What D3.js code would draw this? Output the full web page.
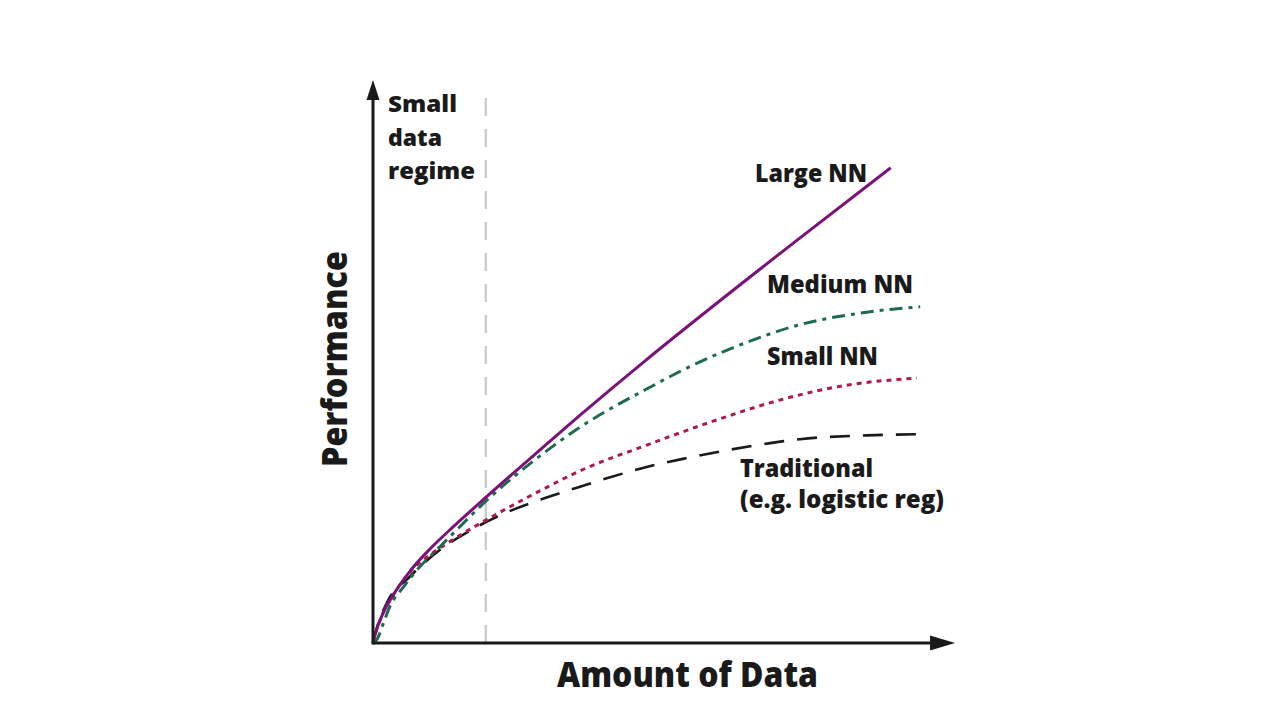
<!DOCTYPE html>
<html>
<head>
<meta charset="utf-8">
<script src="https://cdn.jsdelivr.net/npm/d3@7"></script>
<style>
  html, body { margin: 0; padding: 0; background: #ffffff; }
  svg { display: block; }
  text { font-family: "Open Sans", "Noto Sans", sans-serif; font-weight: 800; fill: #1a1a1a; }
</style>
</head>
<body>
<svg id="chart" width="1280" height="720"></svg>
<script>
// ---- data (x = amount of data, y = performance; arbitrary 0-100 units) ----
const largeNN_x = [0, 0.4, 1.9, 3.7, 6.8, 10.5, 14.7, 20.9, 30.6, 38.0, 50.2, 60.0, 78.3, 95.0];
const largeNN_y = [0, 1.6, 5.6, 8.8, 13.2, 17.3, 21.3, 26.9, 35.4, 41.8, 52.0, 59.9, 74.3, 87.2];

const mediumNN_x = [0, 0.7, 1.9, 3.1, 5.6, 8.6, 11.7, 14.1, 20.9, 30.6, 38.0, 50.2, 60.0, 66.1, 78.3, 90.6, 100.4];
const mediumNN_y = [0, 0.6, 3.6, 6.7, 10.3, 14.0, 17.1, 19.5, 26.2, 34.3, 39.6, 46.6, 51.6, 54.2, 58.4, 60.7, 61.7];

const smallNN_x = [0, 0.4, 1.9, 3.7, 6.8, 10.5, 14.1, 23.3, 30.6, 38.0, 50.2, 62.4, 74.7, 87.5, 99.8];
const smallNN_y = [0, 1.6, 5.6, 8.8, 13.0, 16.2, 18.6, 24.0, 27.9, 31.6, 36.3, 40.7, 44.6, 47.4, 48.6];

const traditional_x = [0, 0.6, 2.5, 6.8, 12.3, 17.1, 24.6, 31.3, 37.4, 43.5, 50.2, 57.4, 70.5, 78.3, 90.6, 99.8];
const traditional_y = [0, 2.4, 7.3, 12.2, 17.1, 20.2, 24.0, 26.5, 28.5, 30.4, 32.3, 33.9, 36.3, 37.4, 38.1, 38.3];

const seriesNames = ["Large NN", "Medium NN", "Small NN", "Traditional"];
const smallDataBoundary = 20.7;
const xAxisEnd = 106.8;
const yAxisEnd = 103.3;
const xAxisTitle = "Amount of Data";
const yAxisTitle = "Performance";
const regimeLabel = ["Small", "data", "regime"];
const traditionalSubLabel = "(e.g. logistic reg)";

// ---- scales ----
const svg = d3.select("#chart");
const x = d3.scaleLinear().domain([0, 100]).range([373, 918]);
const y = d3.scaleLinear().domain([0, 100]).range([643, 98]);

const zip = (xs, ys) => xs.map((v, i) => [v, ys[i]]);
const series = [
  { name: seriesNames[0], pts: zip(largeNN_x, largeNN_y), color: "#7a1279", dash: null, w: 3 },
  { name: seriesNames[1], pts: zip(mediumNN_x, mediumNN_y), color: "#1d6b4f", dash: "13,6,4,6", w: 3 },
  { name: seriesNames[2], pts: zip(smallNN_x, smallNN_y), color: "#ad1a4c", dash: "5,5", w: 3 },
  { name: seriesNames[3], pts: zip(traditional_x, traditional_y), color: "#1a1a1a", dash: "20,13", w: 2.6 }
];

// small-data boundary
svg.append("line")
  .attr("x1", x(smallDataBoundary)).attr("x2", x(smallDataBoundary))
  .attr("y1", y(0)).attr("y2", y(101))
  .attr("stroke", "#cccccc").attr("stroke-width", 2.5)
  .attr("stroke-dasharray", "18,13");

// curves
const line = d3.line().x(d => x(d[0])).y(d => y(d[1])).curve(d3.curveMonotoneX);
[3, 2, 1, 0].forEach(i => {
  const s = series[i];
  svg.append("path")
    .attr("d", line(s.pts))
    .attr("fill", "none")
    .attr("stroke", s.color)
    .attr("stroke-width", s.w)
    .attr("stroke-dasharray", s.dash)
    .attr("stroke-linecap", "butt");
});

// axes with arrowheads
svg.append("line")
  .attr("x1", x(0)).attr("y1", y(0)).attr("x2", x(xAxisEnd) - 20).attr("y2", y(0))
  .attr("stroke", "#1a1a1a").attr("stroke-width", 3);
svg.append("line")
  .attr("x1", x(0)).attr("y1", y(0) + 1.5).attr("x2", x(0)).attr("y2", y(yAxisEnd) + 16)
  .attr("stroke", "#1a1a1a").attr("stroke-width", 3);
const ax = x(xAxisEnd), ay = y(0);
svg.append("path")
  .attr("d", `M${ax},${ay} L${ax - 25},${ay - 7.5} L${ax - 25},${ay + 7.5} Z`)
  .attr("fill", "#1a1a1a");
const bx = x(0), by = y(yAxisEnd);
svg.append("path")
  .attr("d", `M${bx},${by} L${bx - 6.5},${by + 20} L${bx + 6.5},${by + 20} Z`)
  .attr("fill", "#1a1a1a");

// helper for labels
function label(txt, px, py, size, width, rotate) {
  const t = svg.append("text")
    .attr("font-size", size)
    .attr("textLength", width)
    .attr("lengthAdjust", "spacingAndGlyphs")
    .text(txt);
  if (rotate) {
    t.attr("transform", `translate(${px},${py}) rotate(-90)`);
  } else {
    t.attr("x", px).attr("y", py);
  }
  return t;
}

// series labels
label(seriesNames[0], 755, 182, 25, 112);
label(seriesNames[1], 767, 293, 25, 146);
label(seriesNames[2], 767, 365, 25, 111);
label(seriesNames[3], 740, 477, 25, 133);
label(traditionalSubLabel, 740, 508, 25, 204);

// small data regime
label(regimeLabel[0], 388, 112, 23, 69);
label(regimeLabel[1], 388, 146, 23, 54);
label(regimeLabel[2], 388, 179, 23, 87);

// axis titles
label(xAxisTitle, 557, 687, 36, 261);
label(yAxisTitle, 347, 467, 36, 216, true);
</script>
</body>
</html>
